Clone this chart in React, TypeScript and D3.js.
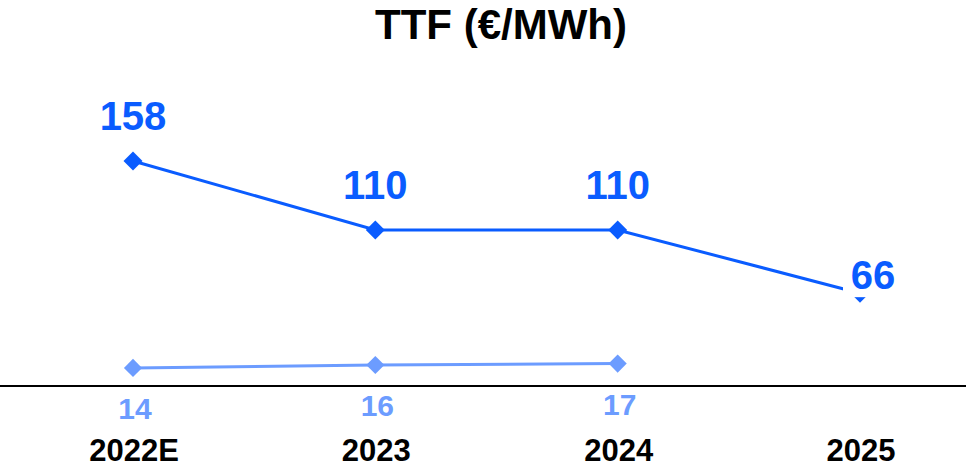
import React from "react";
import * as d3 from "d3";

const categories = ["2022E", "2023", "2024", "2025"];
const ttfForward = [158, 110, 110, 66];
const ttfPrev = [14, 16, 17];
const title = "TTF (€/MWh)";

const W = 966;
const H = 467;
const DARK = "#0a5cff";
const LIGHT = "#6c9cff";
const FONT = "'Liberation Sans', Arial, sans-serif";

export default function App() {
  const x = d3.scalePoint<string>().domain(categories).range([133, 860]);
  const y = d3.scaleLinear().domain([0, 158]).range([388, 161]);
  const line = d3
    .line<number>()
    .x((_, i) => x(categories[i]) as number)
    .y((d) => y(d));
  const diamond = d3.symbol().type(d3.symbolDiamond2).size(230)();
  const diamondS = d3.symbol().type(d3.symbolDiamond2).size(210)();

  return (
    <svg
      width={W}
      height={H}
      style={{ position: "absolute", left: 0, top: 0, background: "#fff" }}
      fontFamily={FONT}
    >
      <text x={501} y={39} textAnchor="middle" fontSize={42} fontWeight="bold" fill="#000">
        {title}
      </text>
      <line x1={0} x2={W} y1={386} y2={386} stroke="#000" strokeWidth={2} />
      <path d={line(ttfForward) || ""} fill="none" stroke={DARK} strokeWidth={3} />
      {ttfForward.map((v, i) => (
        <path key={"d" + i} d={diamond} transform={`translate(${x(categories[i])},${y(v)})`} fill={DARK} />
      ))}
      <path d={line(ttfPrev) || ""} fill="none" stroke={LIGHT} strokeWidth={3} />
      {ttfPrev.map((v, i) => (
        <path key={"l" + i} d={diamondS} transform={`translate(${x(categories[i])},${y(v)})`} fill={LIGHT} />
      ))}
      {ttfForward.map((v, i) => {
        const cx = (x(categories[i]) as number) + (i === 3 ? 13 : 0);
        const by = i === 3 ? y(v) - 4 : y(v) - 31;
        return (
          <g key={"lab" + i}>
            {i === 3 && <rect x={cx - 30} y={by - 34} width={62} height={42} fill="#fff" />}
            <text x={cx} y={by} textAnchor="middle" fontSize={40} fontWeight="bold" fill={DARK}>
              {v}
            </text>
          </g>
        );
      })}
      {ttfPrev.map((v, i) => (
        <text
          key={"pl" + i}
          x={(x(categories[i]) as number) + 2}
          y={y(v) + 51}
          textAnchor="middle"
          fontSize={30}
          fontWeight="bold"
          fill={LIGHT}
        >
          {v}
        </text>
      ))}
      {categories.map((c) => (
        <text
          key={c}
          x={(x(c) as number) + 1}
          y={461}
          textAnchor="middle"
          fontSize={31}
          fontWeight="bold"
          fill="#000"
        >
          {c}
        </text>
      ))}
    </svg>
  );
}
